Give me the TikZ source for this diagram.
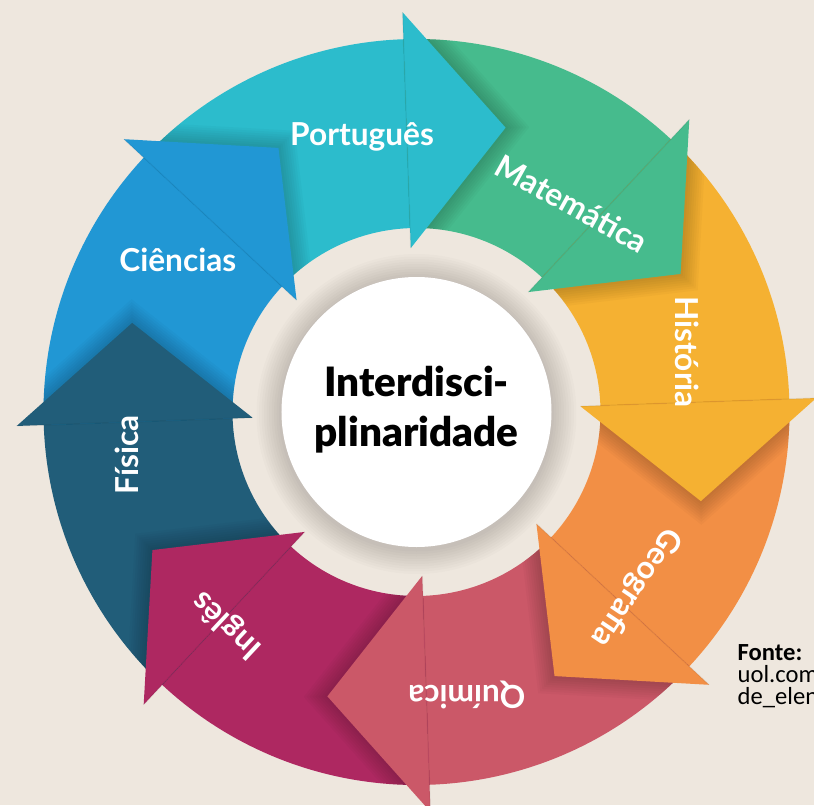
\documentclass[tikz,border=0pt]{standalone}
\usepackage{fontspec}
\setmainfont{Lato}
\newfontfamily\heavyfont{Lato Black}
\newfontfamily\srcfont{Carlito}
\definecolor{Paper}{HTML}{EEE7DE}
\definecolor{Portugues}{HTML}{2CBCCC}
\definecolor{Matematica}{HTML}{46BB8D}
\definecolor{Historia}{HTML}{F5B132}
\definecolor{Geografia}{HTML}{F28F45}
\definecolor{Quimica}{HTML}{CB5868}
\definecolor{Ingles}{HTML}{AE2861}
\definecolor{Fisica}{HTML}{215D79}
\definecolor{Ciencias}{HTML}{2197D4}

\tikzset{
  subject/.style={text=white, font=\bfseries\fontsize{9}{11}\selectfont, inner sep=1pt},
  centrebox/.style={align=center, text=black, font=\heavyfont\fontsize{11.5}{14.2}\selectfont, inner sep=0pt},
  source/.style={align=left, text=black, font=\srcfont\fontsize{7}{6.3}\selectfont, inner sep=0pt},
  headshadow/.style={fill=black, opacity=0.025},
}

\def\rin{1.84}
\def\rout{3.73}
\def\subjects{92/Portugues/Português/101.2/2.80/0,
  47/Matematica/Matemática/53.3/2.60/-29,
  2/Historia/História/12.5/2.77/-90,
  -43/Geografia/Geografia/-38.6/2.81/-124,
  -88/Quimica/Química/-79.9/2.87/180,
  -133/Ingles/Inglês/-131.7/2.85/137,
  -178/Fisica/Física/-171.6/2.93/90,
  137/Ciencias/Ciências/147.5/2.83/0}

\begin{document}
\begin{tikzpicture}
\useasboundingbox (-4.165,-3.93) rectangle (3.975,4.12);
\clip (-4.165,-3.93) rectangle (3.975,4.12);
\fill[Paper] (-4.165,-3.93) rectangle (3.975,4.12);

% soft halo round the centre disc
\foreach \k in {10,...,1}
  \fill[black, opacity=0.014] (0,-0.02) circle ({1.35+0.025*\k});

% ring pieces
\foreach \b/\col/\txt/\la/\lr/\rot in \subjects {
  \pgfmathsetmacro\e{\b+45}
  \pgfmathsetmacro\f{\b-0.5}
  \fill[\col] (\e:\rin) arc[start angle=\e, end angle=\f, radius=\rin]
    -- (\f:\rout) arc[start angle=\f, end angle=\e, radius=\rout] -- cycle;
}

% arrow heads, with their shadow on the next piece
\foreach \b/\col/\txt/\la/\lr/\rot in \subjects {
  \pgfmathsetmacro\t{\b-19.4}
  \pgfmathsetmacro\g{\b-45}
  \coordinate (base) at (\b:2.82);
  \begin{scope}
    \clip (\b:\rin) arc[start angle=\b, end angle=\g, radius=\rin]
      -- (\g:\rout) arc[start angle=\g, end angle=\b, radius=\rout] -- cycle;
    \foreach \s in {1.24,1.21,...,1.02}
      \fill[headshadow, scale around={\s:(base)}]
        (\b:1.64) -- (\t:2.98) -- (\b:4.0) -- cycle;
  \end{scope}
  \fill[\col] (\b:1.64) -- (\t:2.98) -- (\b:4.0) -- cycle;
  \draw[black, opacity=0.05, line width=0.4pt] (\b:1.64) -- (\b:4.0);
}

\foreach \b/\col/\txt/\la/\lr/\rot [count=\i] in \subjects
  \node[subject, rotate=\rot] (lab\i) at (\la:\lr) {\txt};

\fill[white] (0,0) circle (1.35);
\node[centrebox] (centre) at (0,0.02) {Interdisci-\\plinaridade};

\node[source, anchor=north west] (fonte) at (3.205,-2.315)
  {{\bfseries Fonte:}\\uol.com\\de\_elen};
\end{tikzpicture}
\end{document}
